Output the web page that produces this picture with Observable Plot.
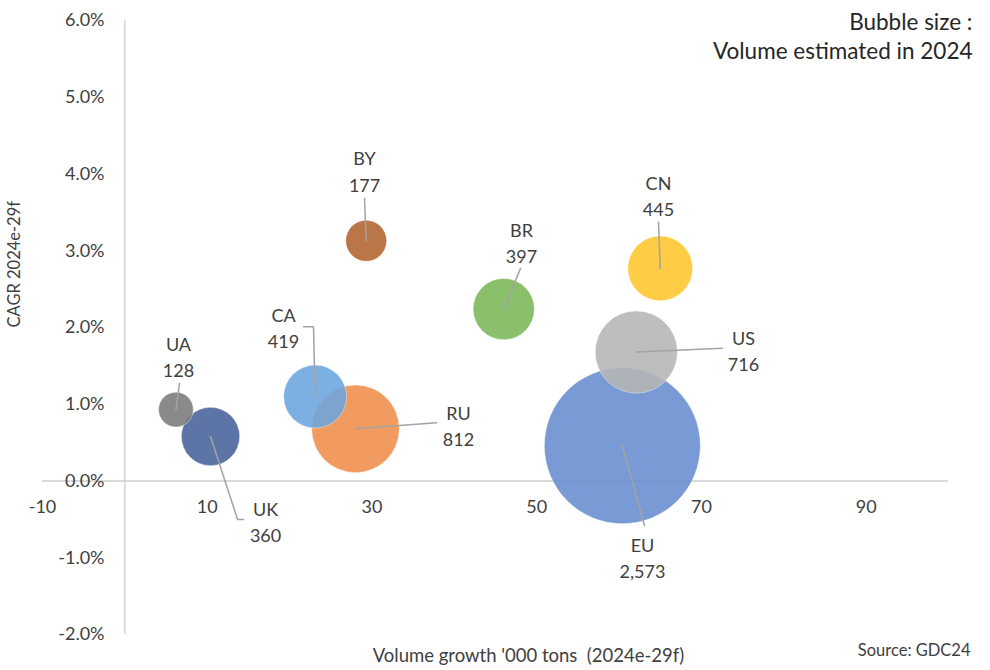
<!DOCTYPE html>
<html>
<head>
<meta charset="utf-8">
<script src="https://cdn.jsdelivr.net/npm/d3@7"></script>
<script src="https://cdn.jsdelivr.net/npm/@observablehq/plot@0.6"></script>
<style>
  html, body { margin: 0; padding: 0; background: #fff; }
  #chart svg { display: block; }
</style>
</head>
<body>
<div id="chart"></div>
<script>
// ---- data ----
const countries = ["EU", "US", "CN", "BR", "BY", "RU", "CA", "UK", "UA"];
const growth    = [60.4, 62.1, 65.0, 46.0, 29.3, 28.0, 23.1, 10.4, 6.2];   // '000 tons, 2024e-29f
const cagr      = [0.46, 1.68, 2.77, 2.24, 3.13, 0.68, 1.10, 0.58, 0.93];  // %
const volume    = [2573, 716, 445, 397, 177, 812, 419, 360, 128];          // volume 2024
const xTicks    = [-10, 10, 30, 50, 70, 90];
const yTicks    = [-2, -1, 0, 1, 2, 3, 4, 5, 6];

// ---- layout (annotation placement, data units) ----
const labelAt = {
  UA: [6.51, 1.63], UK: [17.08, -0.52], CA: [19.26, 2.01], RU: [40.51, 0.74],
  BY: [29.10, 4.05], BR: [48.16, 3.12], CN: [64.79, 3.73], US: [75.11, 1.71], EU: [62.85, -0.98]
};
const leaderTo = {
  UA: [[6.63, 1.27]], UK: [[13.68, -0.50], [14.41, -0.50]], CA: [[22.90, 2.01], [21.69, 2.01]],
  RU: [[37.84, 0.76]], BY: [[29.10, 3.68]], BR: [[48.04, 2.77]], CN: [[64.79, 3.37]],
  US: [[72.56, 1.73]], EU: [[63.09, -0.58]]
};
const palette = ["#678cce", "#b5b5b5", "#ffc52b", "#7ab757", "#b0632d", "#f08d4a", "#6ba5de", "#45629a", "#7a7a7a"];

const rows = countries.map((c, i) => ({ c, x: growth[i], y: cagr[i], v: volume[i] }));
const leaderRows = rows.flatMap(d => [[d.x, d.y], ...leaderTo[d.c]].map(([x, y]) => ({ c: d.c, x, y })));
const labelRows = rows.map(d => ({ ...d, lx: labelAt[d.c][0], ly: labelAt[d.c][1] }));

const txt = "#404040";
const font = "Lato, 'Open Sans', sans-serif";

const chart = Plot.plot({
  width: 990,
  height: 670,
  marginLeft: 42,
  marginRight: 42,
  marginTop: 20,
  marginBottom: 36,
  style: { fontFamily: font, background: "#fff", color: txt },
  x: { domain: [-10, 100] },
  y: { domain: [-2, 6] },
  r: { domain: [0, 2573], range: [0, 78] },
  color: { domain: countries, range: palette },
  marks: [
    Plot.ruleX([0], { y1: -2, y2: 6, stroke: "#d4d4d4", strokeWidth: 1.5 }),
    Plot.ruleY([0], { stroke: "#cccccc", strokeWidth: 1.5 }),
    Plot.axisY({ ticks: yTicks, tickFormat: d => d.toFixed(1) + "%", tickSize: 0, tickPadding: 0, dx: 62, fontSize: 18, fill: txt }),
    Plot.axisX({ ticks: [], label: null }),
    Plot.text(xTicks, { x: d => d, y: 0, dy: 26, text: d => String(d), fontSize: 18, fill: txt }),
    Plot.dot(rows, { x: "x", y: "y", r: "v", fill: "c", fillOpacity: 0.88, stroke: "#ffffff", strokeOpacity: 0.5, strokeWidth: 0.8 }),
    Plot.line(leaderRows, { x: "x", y: "y", z: "c", stroke: "#a3a3a3", strokeWidth: 1.5, curve: "linear" }),
    Plot.text(labelRows, { x: "lx", y: "ly", text: d => d.c + "\n" + d.v.toLocaleString("en-US"), lineAnchor: "middle", lineHeight: 1.45, fontSize: 18, fill: txt }),
    Plot.text(["Bubble size :\nVolume estimated in 2024"], { frameAnchor: "top-right", textAnchor: "end", lineAnchor: "top", dx: 24, dy: -12, lineHeight: 1.32, fontSize: 22.5, fill: "#262626" }),
    Plot.text(["CAGR 2024e-29f"], { frameAnchor: "left", rotate: -90, dx: -28, fontSize: 16.5, fill: txt }),
    Plot.text(["Volume growth '000 tons  (2024e-29f)"], { frameAnchor: "bottom", dx: 33, dy: 27, fontSize: 18.5, fill: txt }),
    Plot.text(["Source: GDC24"], { frameAnchor: "bottom-right", textAnchor: "end", dx: 22, dy: 21, fontSize: 16.5, fill: txt })
  ]
});
document.getElementById("chart").append(chart);
</script>
</body>
</html>
